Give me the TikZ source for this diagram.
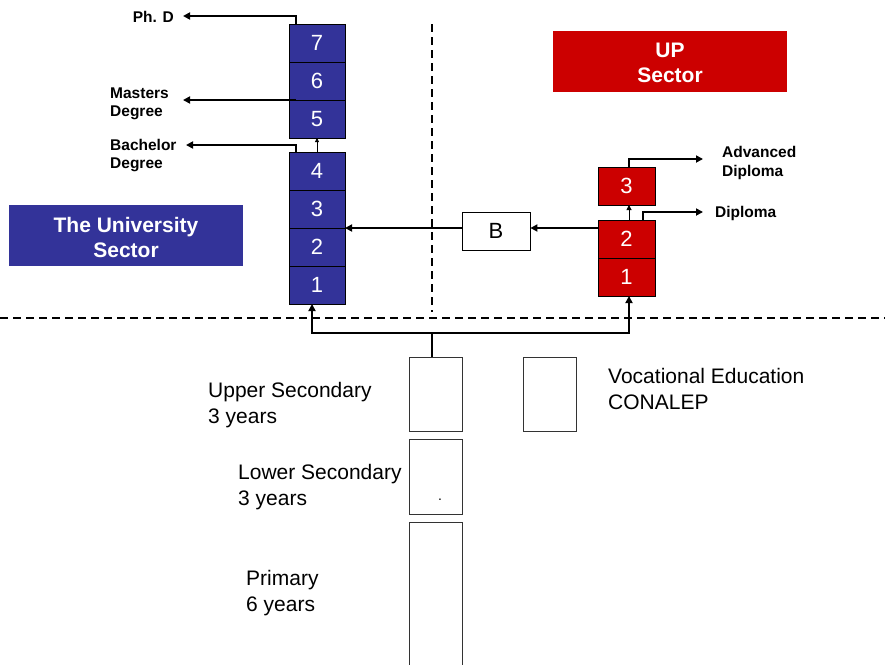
\documentclass[tikz,border=0pt]{standalone}
\usepackage{fontspec}
\setmainfont{Liberation Sans}
\usetikzlibrary{arrows.meta,calc}
\definecolor{unibl}{HTML}{333399}
\definecolor{upred}{HTML}{CC0000}
\tikzset{
  cell/.style={draw=black, line width=0.9pt, minimum height=38pt, inner sep=0pt, outer sep=0pt, text=white, font=\fontsize{22}{22}\selectfont},
  bcell/.style={cell, fill=unibl, minimum width=56pt},
  rcell/.style={cell, fill=upred, minimum width=57pt},
  wbox/.style={draw=black!80, line width=0.8pt, fill=white, minimum width=53pt, inner sep=0pt, outer sep=0pt},
  arr/.style={line width=1.7pt, -{Triangle[length=7pt,width=7pt]}},
  lbl/.style={font=\bfseries\fontsize{15.5}{18.5}\selectfont, align=left, inner sep=0pt},
  body/.style={font=\fontsize{21}{25.5}\selectfont, align=left, inner sep=0pt},
  banner/.style={text=white, font=\bfseries\fontsize{21}{25}\selectfont, align=center, inner sep=0pt},
  dsh/.style={line width=1.5pt, dash pattern=on 8pt off 5pt}
}
\begin{document}
\begin{tikzpicture}[x=1pt,y=-1pt]
\useasboundingbox (0,0) rectangle (885,664);

% dividing lines
\draw[dsh] (0,318) -- (885,318);
\draw[dsh] (432,24) -- (432,312);

% sector banners
\node[fill=unibl, minimum width=234pt, minimum height=61pt, inner sep=0pt] (uniSec) at (126,235.5) {};
\node[banner] at ($(uniSec)+(0,2)$) {The University\\Sector};
\node[fill=upred, minimum width=234pt, minimum height=61pt, inner sep=0pt] (upSec) at (670,61.5) {};
\node[banner] at ($(upSec)+(0,1.5)$) {UP\\Sector};

% university stack
\node[bcell] (b7) at (317,43) {7};
\node[bcell] (b6) at (317,81) {6};
\node[bcell] (b5) at (317,119) {5};
\node[bcell] (b4) at (317,171) {4};
\node[bcell] (b3) at (317,209) {3};
\node[bcell] (b2) at (317,247) {2};
\node[bcell] (b1) at (317,285) {1};

% UP stack
\node[rcell] (r3) at (626.5,186) {3};
\node[rcell] (r2) at (626.5,239) {2};
\node[rcell] (r1) at (626.5,277) {1};

% bridge box
\node[draw=black, line width=0.8pt, fill=white, minimum width=68pt, minimum height=38pt, inner sep=0pt, font=\fontsize{22}{22}\selectfont] (bb) at (496,231) {B};

% school boxes
\node[wbox, minimum height=74pt] (usec) at (435.5,394) {};
\node[wbox, minimum height=74pt] (voc) at (549.5,394) {};
\node[wbox, minimum height=75pt] (lsec) at (435.5,476.5) {};
\node[wbox, minimum height=150pt] (prim) at (435.5,597) {};
\node[font=\fontsize{14}{14}\selectfont, inner sep=0pt] (dot) at (440,500) {.};

% degree labels
\node[lbl, anchor=east] (phd) at (174,16.5) {Ph. D};
\node[lbl, anchor=west] (mast) at (110,104) {Masters\\Degree};
\node[lbl, anchor=west] (bach) at (110,155.5) {Bachelor\\Degree};
\node[lbl, anchor=west] (adip) at (722,163) {Advanced\\Diploma};
\node[lbl, anchor=west] (dip) at (715,213) {Diploma};

% school labels
\node[body, anchor=west] (usecT) at (208,405) {Upper Secondary\\3 years};
\node[body, anchor=west] (lsecT) at (238,487) {Lower Secondary\\3 years};
\node[body, anchor=west] (primT) at (246,593) {Primary\\6 years};
\node[body, anchor=west] (vocT) at (608,389) {Vocational Education\\CONALEP};

% arrow ends
\coordinate (phdTip) at (183,16);
\coordinate (mastTip) at (183,100);
\coordinate (bachTip) at (186,145);
\coordinate (adipTip) at (703,159);
\coordinate (dipTip) at (703,212);

% degree exits
\draw[arr] ($(b7.north west)+(7,0)$) |- (phdTip);
\draw[arr] ($(b6.south west)+(7,0)$) -- (mastTip);
\draw[arr] ($(b4.north west)+(7,0)$) |- (bachTip);
\draw[arr] ($(r3.north west)+(31,0)$) |- (adipTip);
\draw[arr] ($(r2.north west)+(45,0)$) |- (dipTip);

% progressions inside stacks
\draw[line width=0.8pt, -{Triangle[length=4pt,width=4pt]}] (b4.north) -- (b5.south);
\draw[line width=1pt, -{Triangle[length=5pt,width=5pt]}] ($(r2.north)+(2.5,0)$) -- ($(r3.south)+(2.5,0)$);

% transfer path, level with the 2/3 boundary
\draw[arr] (r2.west |- b2.north) -- (bb.east |- b2.north);
\draw[arr] (bb.west |- b2.north) -- (b2.north east);

% entry from upper secondary
\coordinate (fork) at (432,333);
\draw[line width=1.6pt] (usec.north -| fork) -- (fork);
\draw[arr] (fork) -| ($(b1.south)+(-5,0)$);
\draw[arr] (fork) -| ($(r1.south)+(2.5,0)$);
\end{tikzpicture}
\end{document}
